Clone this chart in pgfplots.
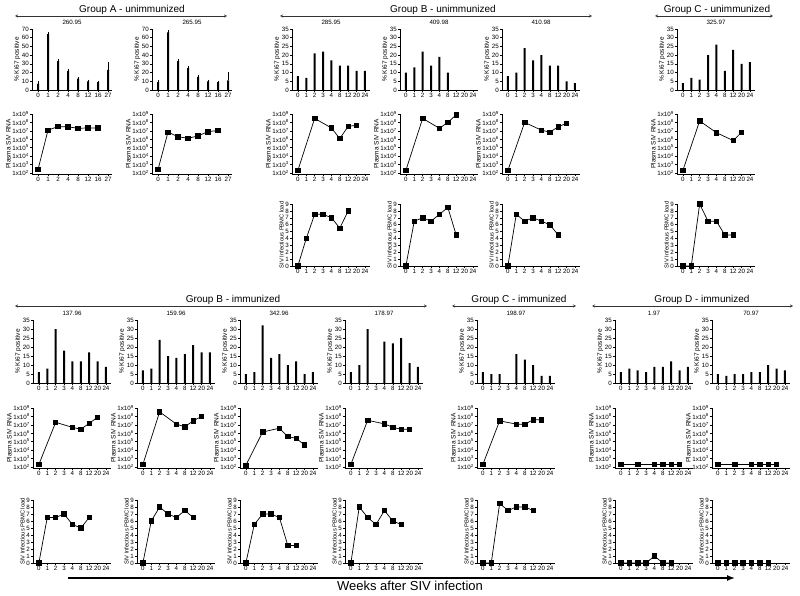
\documentclass[border=0pt]{standalone}
\usepackage{fontspec}
\setmainfont{Liberation Sans}
\usepackage{pgfplots}
\pgfplotsset{compat=1.18}
\usetikzlibrary{arrows.meta}

\pgfplotsset{
  base/.style={scale only axis, anchor=south west, width=78pt, clip=false,
    axis lines=left, axis line style={-, line width=0.6pt},
    tick align=outside, major tick length=2pt, tick style={line width=0.5pt, black},
    ticklabel style={font=\fontsize{6.2}{7}\selectfont, inner sep=1pt},
    xticklabel style={text height=4.5pt, text depth=0pt},
    label style={font=\fontsize{6.5}{7.5}\selectfont},
    ylabel style={inner sep=0.5pt},
    every axis title/.style={at={(0.5,1)}, anchor=south, yshift=1pt, font=\fontsize{6.2}{7}\selectfont},
    /pgf/number format/assume math mode=true},
  cat9/.style={xmin=-0.7, xmax=8.6, xtick={0,...,8}, xticklabels={0,1,2,3,4,8,12,20,24}},
  cat8/.style={xmin=-0.6, xmax=7.4, xtick={0,...,7}, xticklabels={0,1,2,4,8,12,16,27}},
  ki/.style={base, cat9, ymin=0, ymax=35, ytick={0,5,...,35}, ylabel={\% Ki67 positive}},
  kiA/.style={base, cat8, width=80pt, ymin=0, ymax=70, ytick={0,10,...,70}, ylabel={\% Ki67 positive}},
  rna/.style={base, cat9, height=60pt, log basis y=10, ymin=75, ymax=1e9,
    ytick={1e2,1e3,1e4,1e5,1e6,1e7,1e8,1e9}, yminorticks=false,
    yticklabels={1x10\textsuperscript{2},1x10\textsuperscript{3},1x10\textsuperscript{4},1x10\textsuperscript{5},1x10\textsuperscript{6},1x10\textsuperscript{7},1x10\textsuperscript{8},1x10\textsuperscript{9}},
    ylabel={Plasma SIV RNA}},
  rnaA/.style={rna, cat8, width=80pt},
  pbmc/.style={base, cat9, ymin=0, ymax=9, ytick={0,...,9}, ylabel={SIV Infectious PBMC load},
    ylabel style={font=\fontsize{5.8}{6.5}\selectfont}},
  bars/.style={ybar, bar width=2pt, fill=black, draw=none},
  pts/.style={black, line width=0.7pt, mark=square*, mark size=2.2pt},
}

\begin{document}
\begin{tikzpicture}
\useasboundingbox (0pt,0pt) rectangle (800pt,595pt);

% ---------- top row: Ki67 ----------
\begin{axis}[kiA, at={(32pt,505pt)}, height=61pt, title={260.95}]
\addplot[bars, error bars/.cd, y dir=plus, y explicit,
  error bar style={draw=black, line width=0.5pt}, error mark options={draw=black, mark size=1.2pt}]
  coordinates {(0,7) +- (0,2) (1,64) +- (0,1) (2,33) +- (0,1) (3,22) +- (0,1)
               (4,13) +- (0,1) (5,10) +- (0,0.5) (6,9) +- (0,0.5) (7,23) +- (0,8)};
\end{axis}
\begin{axis}[kiA, at={(152pt,505pt)}, height=61pt, title={265.95}]
\addplot[bars, error bars/.cd, y dir=plus, y explicit,
  error bar style={draw=black, line width=0.5pt}, error mark options={draw=black, mark size=1.2pt}]
  coordinates {(0,9) +- (0,1) (1,66) +- (0,1) (2,33) +- (0,1) (3,25) +- (0,1)
               (4,15) +- (0,0.5) (5,10) +- (0,0.5) (6,9) +- (0,0.5) (7,11) +- (0,8)};
\end{axis}
\begin{axis}[ki, at={(292pt,505pt)}, height=61pt, title={285.95}]
\addplot[bars] coordinates {(0,8) (1,7) (2,21) (3,22) (4,17) (5,14) (6,14) (7,11) (8,11)};
\end{axis}
\begin{axis}[ki, at={(400pt,505pt)}, height=61pt, title={409.98}]
\addplot[bars] coordinates {(0,10) (1,13) (2,22) (3,14) (4,19) (5,10)};
\end{axis}
\begin{axis}[ki, at={(502pt,505pt)}, height=61pt, title={410.98}]
\addplot[bars] coordinates {(0,8) (1,10) (2,24) (3,17) (4,20) (5,14) (6,14) (7,5) (8,4)};
\end{axis}
\begin{axis}[ki, at={(677pt,505pt)}, height=61pt, title={325.97}]
\addplot[bars] coordinates {(0,4) (1,7) (2,6) (3,20) (4,26) (5,11) (6,23) (7,15) (8,16)};
\end{axis}

% ---------- top row: plasma RNA ----------
\begin{semilogyaxis}[rnaA, at={(32pt,421pt)}]
\addplot[pts] coordinates {(0,250) (1,1.2e7) (2,3.2e7) (3,3e7) (4,2e7) (5,2.2e7) (6,2.2e7)};
\end{semilogyaxis}
\begin{semilogyaxis}[rnaA, at={(152pt,421pt)}]
\addplot[pts] coordinates {(0,250) (1,7e6) (2,2e6) (3,1.3e6) (4,2.5e6) (5,8e6) (6,1.1e7)};
\end{semilogyaxis}
\begin{semilogyaxis}[rna, at={(292pt,421pt)}]
\addplot[pts] coordinates {(0,200) (2,3e8) (4,2.2e7) (5,1.2e6) (6,3.5e7) (7,4.5e7)};
\end{semilogyaxis}
\begin{semilogyaxis}[rna, at={(400pt,421pt)}]
\addplot[pts] coordinates {(0,200) (2,3e8) (4,2e7) (5,1e8) (6,8e8)};
\end{semilogyaxis}
\begin{semilogyaxis}[rna, at={(502pt,421pt)}]
\addplot[pts] coordinates {(0,200) (2,1e8) (4,1.2e7) (5,7e6) (6,3e7) (7,8e7)};
\end{semilogyaxis}
\begin{semilogyaxis}[rna, at={(677pt,421pt)}]
\addplot[pts] coordinates {(0,200) (2,1.5e8) (4,6e6) (6,7e5) (7,7e6)};
\end{semilogyaxis}

% ---------- top row: PBMC ----------
\begin{axis}[pbmc, at={(292pt,329pt)}, height=62pt]
\addplot[pts] coordinates {(0,0) (1,4) (2,7.5) (3,7.5) (4,7) (5,5.5) (6,8)};
\end{axis}
\begin{axis}[pbmc, at={(400pt,329pt)}, height=62pt]
\addplot[pts] coordinates {(0,0) (1,6.5) (2,7) (3,6.5) (4,7.5) (5,8.5) (6,4.5)};
\end{axis}
\begin{axis}[pbmc, at={(502pt,329pt)}, height=62pt]
\addplot[pts] coordinates {(0,0) (1,7.5) (2,6.5) (3,7) (4,6.5) (5,6) (6,4.5)};
\end{axis}
\begin{axis}[pbmc, at={(677pt,329pt)}, height=62pt]
\addplot[pts] coordinates {(0,0) (1,0) (2,9) (3,6.5) (4,6.5) (5,4.5) (6,4.5)};
\end{axis}

% ---------- bottom row: Ki67 ----------
\begin{axis}[ki, at={(33pt,212pt)}, height=63pt, title={137.96}]
\addplot[bars] coordinates {(0,6) (1,8) (2,30) (3,18) (4,12) (5,12) (6,17) (7,12) (8,9)};
\end{axis}
\begin{axis}[ki, at={(137pt,212pt)}, height=63pt, title={159.96}]
\addplot[bars] coordinates {(0,7) (1,8) (2,24) (3,15) (4,14) (5,16) (6,21) (7,17) (8,17)};
\end{axis}
\begin{axis}[ki, at={(240pt,212pt)}, height=63pt, title={342.96}]
\addplot[bars] coordinates {(0,5) (1,6) (2,32) (3,14) (4,16) (5,10) (6,12) (7,5) (8,6)};
\end{axis}
\begin{axis}[ki, at={(345pt,212pt)}, height=63pt, title={178.97}]
\addplot[bars] coordinates {(0,6) (1,10) (2,30) (4,23) (5,22) (6,25) (7,11) (8,9)};
\end{axis}
\begin{axis}[ki, at={(477pt,212pt)}, height=63pt, title={198.97}]
\addplot[bars] coordinates {(0,6) (1,5) (2,5) (4,16) (5,13) (6,10) (7,4) (8,4)};
\end{axis}
\begin{axis}[ki, at={(615pt,212pt)}, height=63pt, title={1.97}]
\addplot[bars] coordinates {(0,6) (1,8) (2,7) (3,6) (4,9) (5,9) (6,12) (7,7) (8,9)};
\end{axis}
\begin{axis}[ki, at={(712pt,212pt)}, height=63pt, title={70.97}]
\addplot[bars] coordinates {(0,5) (1,4) (2,5) (3,5) (4,6) (5,6) (6,10) (7,8) (8,7)};
\end{axis}

% ---------- bottom row: plasma RNA ----------
\begin{semilogyaxis}[rna, at={(33pt,127pt)}]
\addplot[pts] coordinates {(0,200) (2,2e7) (4,5e6) (5,3e6) (6,1.5e7) (7,8e7)};
\end{semilogyaxis}
\begin{semilogyaxis}[rna, at={(137pt,127pt)}]
\addplot[pts] coordinates {(0,200) (2,3.5e8) (4,1.2e7) (5,6e6) (6,3e7) (7,1e8)};
\end{semilogyaxis}
\begin{semilogyaxis}[rna, at={(240pt,127pt)}]
\addplot[pts] coordinates {(0,160) (2,1.4e6) (4,4e6) (5,4e5) (6,2.5e5) (7,4e4)};
\end{semilogyaxis}
\begin{semilogyaxis}[rna, at={(345pt,127pt)}]
\addplot[pts] coordinates {(0,200) (2,3.5e7) (4,1.3e7) (5,5e6) (6,3e6) (7,3e6)};
\end{semilogyaxis}
\begin{semilogyaxis}[rna, at={(477pt,127pt)}]
\addplot[pts] coordinates {(0,200) (2,3e7) (4,1.2e7) (5,1.2e7) (6,4e7) (7,4e7)};
\end{semilogyaxis}
\begin{semilogyaxis}[rna, at={(615pt,127pt)}]
\addplot[pts] coordinates {(0,200) (2,200) (4,200) (5,200) (6,200) (7,200)};
\end{semilogyaxis}
\begin{semilogyaxis}[rna, at={(712pt,127pt)}]
\addplot[pts] coordinates {(0,200) (2,200) (4,200) (5,200) (6,200) (7,200)};
\end{semilogyaxis}

% ---------- bottom row: PBMC ----------
\begin{axis}[pbmc, at={(33pt,32pt)}, height=63pt]
\addplot[pts] coordinates {(0,0) (1,6.5) (2,6.5) (3,7) (4,5.5) (5,5) (6,6.5)};
\end{axis}
\begin{axis}[pbmc, at={(137pt,32pt)}, height=63pt]
\addplot[pts] coordinates {(0,0) (1,6) (2,8) (3,7) (4,6.5) (5,7.5) (6,6.5)};
\end{axis}
\begin{axis}[pbmc, at={(240pt,32pt)}, height=63pt]
\addplot[pts] coordinates {(0,0) (1,5.5) (2,7) (3,7) (4,6.5) (5,2.5) (6,2.5)};
\end{axis}
\begin{axis}[pbmc, at={(345pt,32pt)}, height=63pt]
\addplot[pts] coordinates {(0,0) (1,8) (2,6.5) (3,5.5) (4,7.5) (5,6) (6,5.5)};
\end{axis}
\begin{axis}[pbmc, at={(477pt,32pt)}, height=63pt]
\addplot[pts] coordinates {(0,0) (1,0) (2,8.5) (3,7.5) (4,8) (5,8) (6,7.5)};
\end{axis}
\begin{axis}[pbmc, at={(615pt,32pt)}, height=63pt]
\addplot[pts] coordinates {(0,0) (1,0) (2,0) (3,0) (4,1) (5,0) (6,0)};
\end{axis}
\begin{axis}[pbmc, at={(712pt,32pt)}, height=63pt]
\addplot[pts] coordinates {(0,0) (1,0) (2,0) (3,0) (4,0) (5,0) (6,0)};
\end{axis}

% ---------- group headings ----------
\tikzset{grp/.style={black!80, line width=0.6pt, {Stealth[open,length=3pt,width=3pt]}-{Stealth[open,length=3pt,width=3pt]}},
         gtxt/.style={anchor=south, font=\fontsize{10}{12}\selectfont, inner sep=0pt}}
\draw[grp] (15pt,579pt) -- (227pt,579pt);
\node[gtxt] at (132pt,580.5pt) {Group A - unimmunized};
\draw[grp] (280pt,579pt) -- (592pt,579pt);
\node[gtxt] at (443pt,580.5pt) {Group B - unimmunized};
\draw[grp] (655pt,579pt) -- (773pt,579pt);
\node[gtxt] at (717pt,580.5pt) {Group C - unimmunized};

\draw[grp] (15pt,289pt) -- (427pt,289pt);
\node[gtxt] at (233pt,290.5pt) {Group B - immunized};
\draw[grp] (452pt,289pt) -- (576pt,289pt);
\node[gtxt] at (519pt,290.5pt) {Group C - immunized};
\draw[grp] (592pt,289pt) -- (793pt,289pt);
\node[gtxt] at (702pt,290.5pt) {Group D - immunized};

\draw[line width=1.4pt, -{Latex[length=8pt,width=6pt]}] (68pt,17pt) -- (735pt,17pt);
\node[font=\fontsize{13}{15}\selectfont, inner sep=0pt] at (410pt,9pt) {Weeks after SIV infection};
\end{tikzpicture}
\end{document}
